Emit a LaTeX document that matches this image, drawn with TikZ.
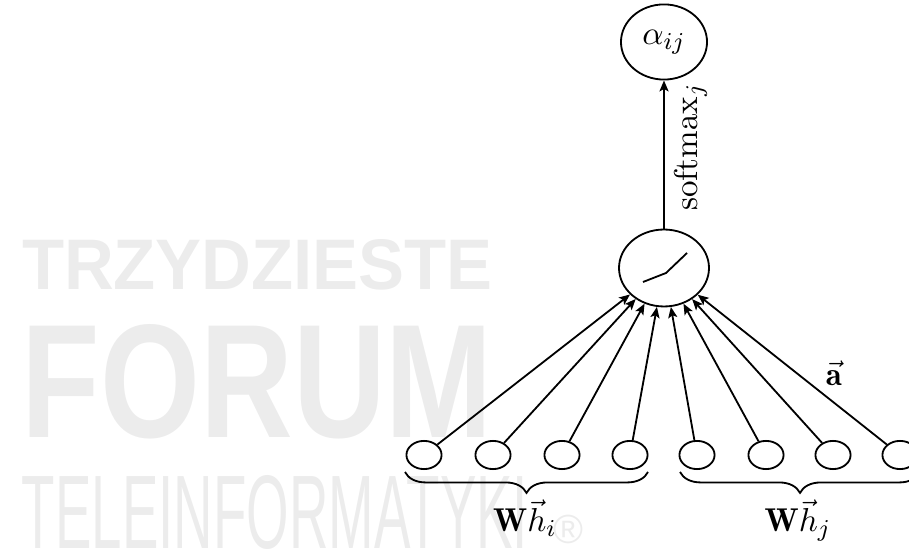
\documentclass[tikz,border=0pt]{standalone}
\usepackage{fontspec}
\usepackage{graphicx}
\usetikzlibrary{shapes.geometric,arrows.meta,decorations.pathreplacing}
\newfontfamily\wmfont{Liberation Sans}
\definecolor{wmgray}{RGB}{236,236,236}
\begin{document}
\begin{tikzpicture}[x=0.33pt,y=-0.33pt,
  line width=0.6pt,
  every node/.append style={font=\fontsize{10.9}{13}\selectfont},
  wmtext/.style={text=wmgray,inner sep=0pt,outer sep=0pt,anchor=base west},
  bigcell/.style={draw,ellipse,inner sep=0pt,minimum width=29.7pt,minimum height=25.4pt},
  outcell/.style={draw,ellipse,inner sep=0pt,minimum width=28.4pt,minimum height=24.8pt},
  incell/.style={draw,ellipse,inner sep=0pt,minimum width=11.6pt,minimum height=9.3pt},
  feed/.style={-{Stealth[length=3.6pt,width=3pt,inset=0.8pt]}},
  grp/.style={decorate,decoration={brace,mirror,amplitude=6.9pt}}]
\useasboundingbox (0,0) rectangle (909,550);

% background lettering
\node[wmtext] (wm1) at (22,290) {\resizebox{155.4pt}{16.5pt}{\wmfont\bfseries TRZYDZIESTE}};
\node[wmtext] (wm2) at (22,438) {\resizebox{155.4pt}{37.3pt}{\wmfont\bfseries FORUM}};
\node[wmtext] (wm3) at (22,548) {\resizebox{167pt}{24.1pt}{\wmfont TELEINFORMATYKI}};
\node[text=wmgray,inner sep=0pt,anchor=center] (wm4) at (568,529) {\resizebox{9.9pt}{!}{\wmfont ®}};

% attention unit and its output
\node[outcell] (out) at (664,42) {$\alpha_{ij}$};
\node[bigcell] (mid) at (664,268) {};
\draw[shift={(mid.center)}] (-21,14) -- (2,5) -- (23,-15);
\draw[feed] (mid) -- (out)
  node[pos=0.55,rotate=90,anchor=north,inner sep=3pt] (smx) {$\mathrm{softmax}_j$};

% input features
\foreach \i/\x in {1/424,2/493,3/562,4/630,5/697,6/766,7/833,8/900}{
  \node[incell] (s\i) at (\x,455) {};
  \draw[feed] (s\i) -- (mid);
}
\node (avec) at (834,373) {$\vec{\mathbf{a}}$};

% groupings
\coordinate (bl1) at (405,472);
\coordinate (bl2) at (648,472);
\coordinate (br1) at (680,472);
\coordinate (br2) at (920,472);
\draw[grp] (bl1) -- (bl2);
\draw[grp] (br1) -- (br2);
\node[anchor=base] (whi) at (525,532) {$\mathbf{W}\vec{h}_i$};
\node[anchor=base] (whj) at (798,532) {$\mathbf{W}\vec{h}_j$};
\end{tikzpicture}
\end{document}
